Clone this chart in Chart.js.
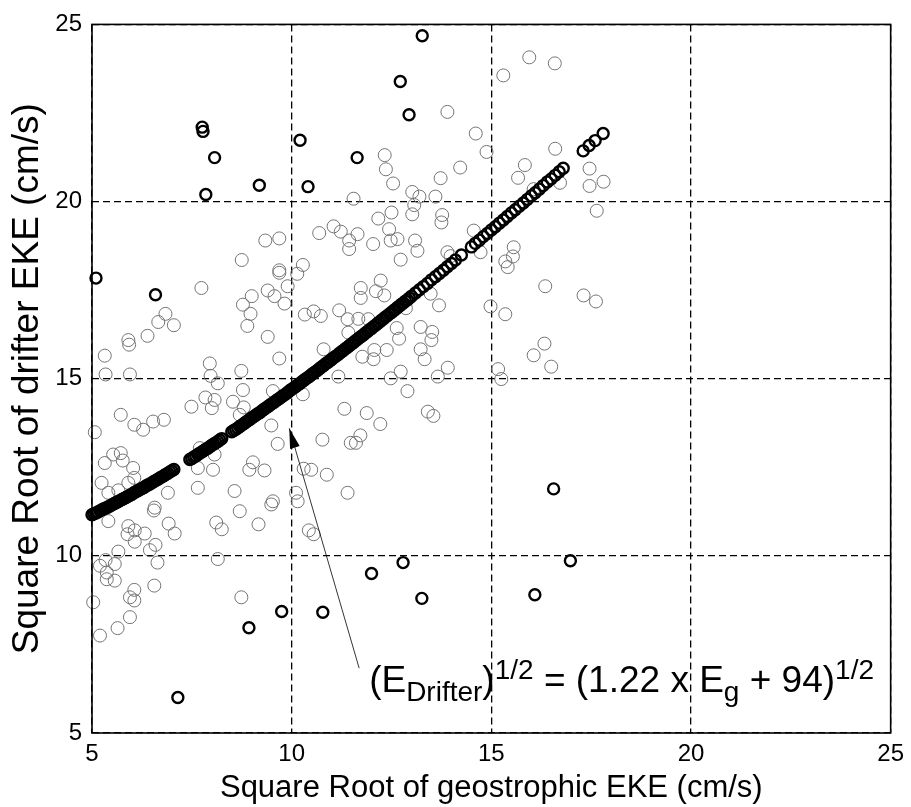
<!DOCTYPE html>
<html>
<head>
<meta charset="utf-8">
<script src="https://cdn.jsdelivr.net/npm/chart.js@4.4.1/dist/chart.umd.min.js"></script>
<style>
  html, body { margin: 0; padding: 0; background: #fff; }
  canvas { display: block; }
</style>
</head>
<body>
<canvas id="eke" width="911" height="807"></canvas>
<script>
// axis ticks
const xTicks = [5, 10, 15, 20, 25];
const yTicks = [5, 10, 15, 20, 25];

// fitted curve, (E_drifter)^1/2 read along the bold band
const fitX = [5.0, 5.1, 5.2, 5.3, 5.4, 5.5, 5.6, 5.7, 5.8, 5.9, 6.0, 6.1, 6.2, 6.3, 6.4, 6.5, 6.6, 6.7, 6.8, 6.9, 7.0, 7.05,
  7.45, 7.55, 7.65, 7.75, 7.85, 7.95, 8.05, 8.15, 8.25,
  8.5, 8.6, 8.7, 8.8, 8.9, 9.0, 9.1, 9.2, 9.3, 9.4, 9.5, 9.6, 9.7, 9.8, 9.9, 10.0, 10.1, 10.2, 10.3, 10.4, 10.5,
  10.6, 10.7, 10.8, 10.9, 11.0, 11.1, 11.2, 11.3, 11.4, 11.5, 11.6, 11.7, 11.8, 11.9, 12.0, 12.1, 12.2, 12.3,
  12.4, 12.5, 12.6, 12.7, 12.8, 12.9, 13.0, 13.1, 13.2, 13.3, 13.4, 13.5, 13.6, 13.7, 13.8, 13.9, 14.0, 14.1,
  14.25, 14.5, 14.6, 14.7, 14.8, 14.9, 15.0, 15.1, 15.2, 15.3, 15.4, 15.5, 15.6, 15.7, 15.8, 15.9, 16.0, 16.1,
  16.2, 16.3, 16.4, 16.5, 16.6, 16.7, 16.8,
  17.3, 17.45, 17.6, 17.8];
const fitY = [11.16, 11.21, 11.27, 11.33, 11.38, 11.44, 11.50, 11.56, 11.62, 11.68, 11.74, 11.81, 11.87, 11.93, 12.00, 12.06, 12.13, 12.20, 12.26, 12.33, 12.40, 12.44,
  12.72, 12.79, 12.86, 12.93, 13.01, 13.08, 13.16, 13.23, 13.31,
  13.50, 13.57, 13.65, 13.73, 13.81, 13.89, 13.97, 14.04, 14.13, 14.21, 14.29, 14.37, 14.45, 14.53, 14.61, 14.70, 14.78, 14.86, 14.95, 15.03, 15.12,
  15.20, 15.29, 15.37, 15.46, 15.54, 15.63, 15.72, 15.80, 15.89, 15.98, 16.07, 16.16, 16.24, 16.33, 16.42, 16.51, 16.60, 16.69,
  16.78, 16.87, 16.96, 17.05, 17.14, 17.23, 17.33, 17.42, 17.51, 17.60, 17.69, 17.79, 17.88, 17.97, 18.06, 18.16, 18.25, 18.35,
  18.49, 18.72, 18.82, 18.91, 19.01, 19.10, 19.20, 19.29, 19.39, 19.48, 19.58, 19.68, 19.77, 19.87, 19.96, 20.06, 20.16, 20.25,
  20.35, 20.45, 20.55, 20.64, 20.74, 20.84, 20.94,
  21.43, 21.58, 21.72, 21.92];

// where the band is solid black the fit points sit closer together
const fitDenseX = [5.05, 5.15, 5.25, 5.35, 5.45, 5.55, 5.65, 5.75, 5.85, 5.95, 6.05, 6.15, 6.25, 6.35, 6.45, 6.55, 6.65, 6.75, 6.85, 6.95,
  7.5, 7.6, 7.7, 7.8, 7.9, 8.0, 8.1, 8.2,
  8.55, 8.65, 8.75, 8.85, 8.95, 9.05, 9.15, 9.25, 9.35, 9.45, 9.55, 9.65, 9.75, 9.85, 9.95, 10.05, 10.15, 10.25,
  10.35, 10.45, 10.55, 10.65, 10.75, 10.85, 10.95,
  11.05, 11.15, 11.25, 11.35, 11.45, 11.55, 11.65, 11.75, 11.85, 11.95, 12.05, 12.15, 12.25, 12.35, 12.45, 12.55,
  12.65, 12.75, 12.85, 12.95];
const fitDenseY = [11.19, 11.24, 11.30, 11.35, 11.41, 11.47, 11.53, 11.59, 11.65, 11.71, 11.78, 11.84, 11.90, 11.97, 12.03, 12.10, 12.16, 12.23, 12.30, 12.37,
  12.75, 12.82, 12.90, 12.97, 13.04, 13.12, 13.19, 13.27,
  13.54, 13.61, 13.69, 13.77, 13.85, 13.93, 14.01, 14.09, 14.17, 14.25, 14.33, 14.41, 14.49, 14.57, 14.66, 14.74, 14.82, 14.91,
  14.99, 15.07, 15.16, 15.24, 15.33, 15.42, 15.50,
  15.59, 15.67, 15.76, 15.85, 15.94, 16.02, 16.11, 16.20, 16.29, 16.38, 16.47, 16.56, 16.65, 16.74, 16.83, 16.92,
  17.01, 17.10, 17.19, 17.28];

// bold outliers
const boldX = [5.10, 6.59, 7.76, 7.78, 8.07, 7.85, 9.19, 10.21, 10.41, 13.27, 12.72, 12.94, 11.64, 16.56,
  7.15, 8.93, 9.75, 10.78, 12.00, 12.79, 13.26, 16.09, 16.98];
const boldY = [17.84, 17.37, 22.10, 21.98, 21.24, 20.20, 20.46, 21.73, 20.42, 24.68, 23.39, 22.45, 21.24, 11.89,
  6.00, 7.97, 8.43, 8.41, 9.50, 9.81, 8.80, 8.90, 9.86];

// drifter vs geostrophic samples (thin circles)
const dotX = [9.34, 9.69, 8.75, 9.69, 10.28, 10.69, 11.05, 11.23, 11.44, 11.55, 11.44,
  15.95, 16.59, 15.30, 13.90, 14.61, 14.88, 12.33, 12.36, 12.54, 14.22, 13.73, 13.02, 13.20, 13.60,
  13.07, 12.50, 12.17, 13.02, 13.77, 13.75, 12.44, 12.48, 12.65, 11.65, 12.04, 13.09, 13.15, 12.73,
  13.90, 13.98, 14.56, 14.73, 15.56, 15.54, 15.35, 15.41, 16.60, 15.84, 15.67, 16.06, 16.72, 17.46,
  17.46, 17.81, 17.64,
  16.35, 17.31, 17.62, 14.98, 15.35, 16.33, 16.06, 16.50, 15.17, 15.25, 11.73, 11.73, 12.23, 12.11,
  12.32, 13.48, 13.69, 12.86, 11.67, 11.92, 12.63, 12.69, 13.23, 13.52, 13.50, 13.23, 13.33, 12.38,
  12.07, 11.77, 12.05, 12.73, 12.48, 13.91, 13.66, 12.90, 11.88, 12.22, 13.41, 13.55, 11.72, 11.61,
  9.69, 10.14, 9.90, 7.74, 9.40, 9.57, 9.82, 9.00, 8.78, 8.97, 8.89, 9.40, 10.33, 10.55, 10.73,
  11.19, 11.40, 11.42, 6.84, 6.66, 7.05, 6.39, 5.91, 5.93, 5.32, 5.34, 5.95, 7.95, 7.97, 8.15, 8.74,
  9.69, 10.80, 11.17, 8.78, 7.84, 8.07, 8.00, 7.49, 8.53, 8.80, 8.70, 9.53, 10.28, 11.32, 9.49, 9.65,
  10.77, 11.48, 5.72, 6.06, 6.28, 6.53, 6.80, 5.07, 5.32, 5.53, 5.72, 5.77, 6.03, 6.06, 5.24, 5.91,
  5.66, 5.41, 6.90, 7.65, 7.65, 7.70, 8.03, 8.07, 8.57, 9.03, 8.94, 9.32, 9.53, 10.11, 10.30, 10.49,
  10.88, 11.40, 10.15, 6.57,
  8.70, 9.49, 6.55, 5.41, 5.91, 6.07, 5.89, 6.07, 6.32, 6.92, 7.07, 8.11, 8.25, 9.17, 10.43, 10.55,
  6.59, 6.45, 6.64, 5.66, 5.34, 5.57, 5.20, 5.37, 5.37, 5.57, 8.15, 6.56, 6.06, 5.95, 6.06, 5.95,
  8.74, 5.03, 5.64, 5.20];
const dotY = [18.90, 18.96, 18.35, 18.06, 18.21, 19.11, 19.30, 19.15, 18.90, 20.08, 18.66,
  24.07, 23.90, 23.56, 22.53, 21.92, 21.40, 21.31, 20.91, 20.51, 20.96, 20.66, 20.27, 20.14, 20.14,
  19.90, 19.69, 19.52, 19.64, 19.62, 19.41, 19.22, 18.90, 18.94, 19.08, 18.80, 18.90, 18.61, 18.36,
  18.57, 18.46, 19.18, 18.57, 18.71, 18.45, 18.31, 18.15, 21.49, 21.03, 20.67, 20.35, 20.53, 20.93,
  20.44, 20.56, 19.74,
  17.61, 17.35, 17.18, 17.04, 16.82, 15.99, 15.66, 15.34, 15.27, 14.99, 17.56, 17.28, 17.77, 17.47,
  17.35, 17.40, 17.07, 16.99, 16.69, 16.68, 16.43, 16.13, 16.46, 16.32, 16.09, 15.83, 15.55, 15.81,
  15.81, 15.62, 15.55, 15.20, 15.01, 15.31, 15.06, 14.65, 14.03, 13.72, 14.07, 13.95, 13.40, 13.19,
  17.99, 17.96, 17.61, 17.56, 17.49, 17.33, 17.12, 17.33, 17.09, 16.83, 16.49, 16.18, 16.81, 16.90, 16.77,
  16.93, 16.68, 16.30, 16.83, 16.60, 16.51, 16.21, 16.09, 15.96, 15.65, 15.12, 15.12, 15.43, 15.08, 14.87, 15.22,
  15.57, 15.83, 15.06, 14.68, 14.47, 14.40, 14.17, 14.21, 14.35, 14.19, 13.98, 14.65, 14.56, 14.15, 13.68, 13.16,
  13.28, 13.19, 13.98, 13.70, 13.56, 13.79, 13.84, 13.49, 12.62, 12.86, 12.90, 12.69, 12.48, 12.20, 12.06, 12.06,
  11.85, 11.78, 11.78, 11.92, 12.48, 13.04, 12.43, 12.86, 11.83, 12.64, 12.43, 12.41, 11.54, 11.78, 12.46, 12.43,
  12.29, 11.78, 11.54, 11.36,
  11.26, 11.45, 11.28, 10.98, 10.84, 10.72, 10.61, 10.40, 10.63, 10.91, 10.63, 10.94, 10.75, 10.89, 10.72, 10.61,
  10.31, 10.16, 9.81, 10.12, 9.88, 9.77, 9.72, 9.53, 9.34, 9.30, 9.91, 9.16, 9.04, 8.83, 8.74, 8.27,
  8.83, 8.69, 7.96, 7.75];

// annotation: arrow tail/tip and text anchor in data units
const arrowFrom = [11.69, 6.83];
const arrowTo = [9.94, 13.6];
const labelAt = [11.94, 6.15];

const FONT = "'Liberation Sans', Arial, Helvetica, sans-serif";

function pairs(xs, ys) {
    return xs.map((x, i) => ({ x: x, y: ys[i] }));
}

const framePlugin = {
    id: "frame",
    afterDatasetsDraw(chart) {
        const { ctx, chartArea: a } = chart;
        ctx.save();
        ctx.strokeStyle = "#000";
        ctx.lineWidth = 1.6;
        ctx.strokeRect(a.left, a.top, a.right - a.left, a.bottom - a.top);
        ctx.restore();
    }
};

const equationPlugin = {
    id: "equation",
    afterDraw(chart) {
        const { ctx, scales } = chart;
        const px = v => scales.x.getPixelForValue(v);
        const py = v => scales.y.getPixelForValue(v);

        // arrow
        const x0 = px(arrowFrom[0]), y0 = py(arrowFrom[1]);
        const x1 = px(arrowTo[0]), y1 = py(arrowTo[1]);
        const ang = Math.atan2(y1 - y0, x1 - x0);
        ctx.save();
        ctx.strokeStyle = "#000";
        ctx.fillStyle = "#000";
        ctx.lineWidth = 0.8;
        ctx.beginPath();
        ctx.moveTo(x0, y0);
        ctx.lineTo(x1, y1);
        ctx.stroke();
        const len = 20, half = 5;
        ctx.beginPath();
        ctx.moveTo(x1, y1);
        ctx.lineTo(x1 - len * Math.cos(ang) + half * Math.sin(ang), y1 - len * Math.sin(ang) - half * Math.cos(ang));
        ctx.lineTo(x1 - len * Math.cos(ang) - half * Math.sin(ang), y1 - len * Math.sin(ang) + half * Math.cos(ang));
        ctx.closePath();
        ctx.fill();

        // text with sub/superscripts
        const parts = [
            ["(E", 37, 0],
            ["Drifter", 28, 9],
            [")", 37, 0],
            ["1/2", 28, -13],
            [" = (1.22 x E", 37, 0],
            ["g", 28, 9],
            [" + 94)", 37, 0],
            ["1/2", 28, -13]
        ];
        let x = px(labelAt[0]);
        const base = py(labelAt[1]);
        ctx.textBaseline = "alphabetic";
        ctx.textAlign = "left";
        parts.forEach(([t, size, dy]) => {
            ctx.font = size + "px " + FONT;
            ctx.fillText(t, x, base + dy);
            x += ctx.measureText(t).width;
        });
        ctx.restore();
    }
};

const boldRing = {
    pointRadius: 5.5,
    borderWidth: 2.4,
    borderColor: "#000",
    backgroundColor: "rgba(0,0,0,0)",
    clip: false
};

const ctx = document.getElementById("eke").getContext("2d");
new Chart(ctx, {
    type: "scatter",
    data: {
        datasets: [
            Object.assign({ label: "fit", data: pairs(fitX, fitY).concat(pairs(fitDenseX, fitDenseY)) }, boldRing),
            Object.assign({ label: "bold", data: pairs(boldX, boldY) }, boldRing),
            {
                label: "samples",
                data: pairs(dotX, dotY),
                pointRadius: 6.5,
                borderWidth: 1,
                borderColor: "#747474",
                backgroundColor: "rgba(0,0,0,0)",
                clip: false
            }
        ]
    },
    options: {
        responsive: false,
        animation: false,
        events: [],
        layout: { padding: { left: 0, right: 18, top: 21, bottom: 0 } },
        plugins: { legend: { display: false }, tooltip: { enabled: false } },
        scales: {
            x: {
                type: "linear",
                min: xTicks[0],
                max: xTicks[xTicks.length - 1],
                afterBuildTicks: s => { s.ticks = xTicks.map(v => ({ value: v })); },
                afterFit: s => { s.height = 74; },
                ticks: { color: "#000", padding: 7, font: { family: FONT, size: 24 } },
                grid: { color: "#000", lineWidth: 1.3, drawTicks: false },
                border: { display: false, dash: [7, 4] },
                title: {
                    display: true,
                    text: "Square Root of geostrophic EKE (cm/s)",
                    color: "#000",
                    font: { family: FONT, size: 31 },
                    padding: { top: 5, bottom: 0 }
                }
            },
            y: {
                type: "linear",
                min: yTicks[0],
                max: yTicks[yTicks.length - 1],
                afterBuildTicks: s => { s.ticks = yTicks.map(v => ({ value: v })); },
                afterFit: s => { s.width = 92; },
                ticks: { color: "#000", padding: 10, font: { family: FONT, size: 24 } },
                grid: { color: "#000", lineWidth: 1.3, drawTicks: false },
                border: { display: false, dash: [7, 4] },
                title: {
                    display: true,
                    text: "Square Root of drifter EKE (cm/s)",
                    color: "#000",
                    font: { family: FONT, size: 37 },
                    padding: { top: 6, bottom: 0 }
                }
            }
        }
    },
    plugins: [framePlugin, equationPlugin]
});
</script>
</body>
</html>
